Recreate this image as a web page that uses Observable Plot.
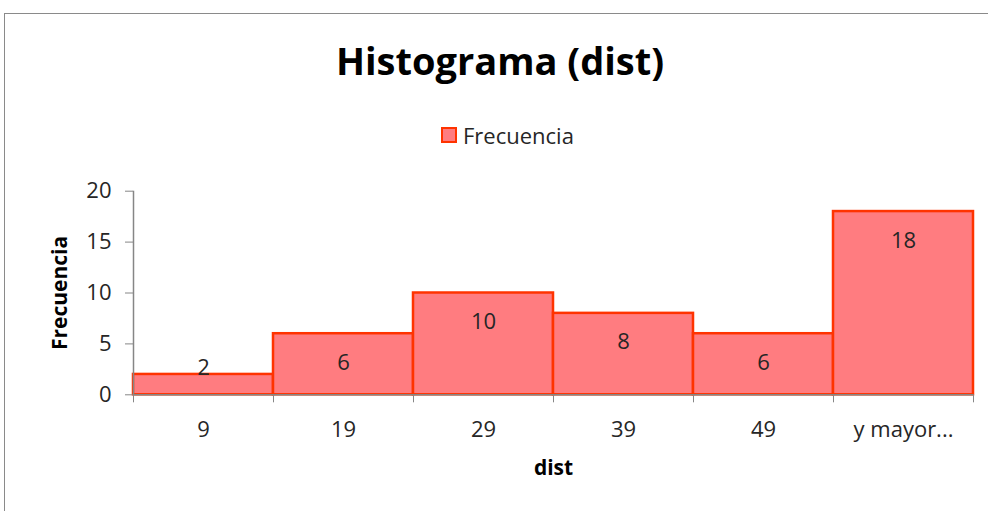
<!DOCTYPE html>
<html>
<head>
<meta charset="utf-8">
<script src="https://cdn.jsdelivr.net/npm/d3@7"></script>
<script src="https://cdn.jsdelivr.net/npm/@observablehq/plot@0.6"></script>
<style>
  body { margin: 0; background: #fff; font-family: "Open Sans", sans-serif; }
  #wrap { position: relative; width: 988px; height: 511px; overflow: hidden; }
  #box { position: absolute; left: 4px; top: 13px; width: 1000px; height: 520px; border-top: 1.5px solid #8a8a8a; border-left: 1.5px solid #8a8a8a; }
  #title { position: absolute; left: 0; width: 1000px; top: 41px; text-align: center; font-weight: bold; font-size: 38px; color: #000; line-height: 1; }
  #legend { position: absolute; left: 441px; top: 124px; font-size: 22px; color: #262626; display: flex; align-items: center; line-height: 1; }
  #legend .sw { width: 12px; height: 12px; background: #ff7c80; border: 2px solid #ff3300; margin-right: 6px; }
  #chart { position: absolute; left: 0; top: 0; }
</style>
</head>
<body>
<div id="wrap">
  <div id="box"></div>
  <div id="chart"></div>
  <div id="title">Histograma (dist)</div>
  <div id="legend"><span class="sw"></span><span>Frecuencia</span></div>
</div>
<script>
const categories = ["9", "19", "29", "39", "49", "y mayor..."];
const frequencies = [2, 6, 10, 8, 6, 18];
const yTicks = [0, 5, 10, 15, 20];

const data = categories.map((c, i) => ({i, category: c, value: frequencies[i]}));
const textColor = "#262626";
const axisColor = "#868686";

const chart = Plot.plot({
  width: 988,
  height: 511,
  marginLeft: 133,
  marginRight: 15,
  marginTop: 190.7,
  marginBottom: 116.7,
  style: {fontFamily: "Open Sans, sans-serif", fontSize: "21px", color: textColor, background: "transparent"},
  x: {type: "linear", domain: [0, categories.length]},
  y: {domain: [0, 20]},
  marks: [
    Plot.rectY(data, {x1: "i", x2: d => d.i + 1, y1: 0, y2: "value", fill: "#ff7c80", stroke: "#ff3300", strokeWidth: 2.5}),
    Plot.ruleY([0], {stroke: axisColor, strokeWidth: 1.5}),
    Plot.ruleX([0], {stroke: axisColor, strokeWidth: 1.5}),
    Plot.axisY({ticks: yTicks, tickSize: 8, tickPadding: 14, stroke: axisColor, fill: textColor, fontSize: 22, label: null}),
    Plot.axisX({ticks: d3.range(categories.length + 1), tickSize: 8, tickFormat: () => "", stroke: axisColor, label: null}),
    Plot.axisX({ticks: categories.map((c, i) => i + 0.5), tickSize: 0, tickPadding: 27, tickFormat: v => categories[Math.floor(v)], fill: textColor, fontSize: 22, label: null}),
    Plot.text(data.filter(d => d.value >= 5), {x: d => d.i + 0.5, y: "value", text: d => String(d.value), dy: 29, fill: textColor, fontSize: 22}),
    Plot.text(data.filter(d => d.value < 5), {x: d => d.i + 0.5, y: "value", text: d => String(d.value), dy: -6, fill: textColor, fontSize: 22}),
    Plot.text(["dist"], {frameAnchor: "bottom", dy: 80, fontWeight: "bold", fontSize: 21, fill: "#000"}),
    Plot.text(["Frecuencia"], {frameAnchor: "left", textAnchor: "middle", dx: -73, rotate: -90, fontWeight: "bold", fontSize: 21, fill: "#000"})
  ]
});
document.getElementById("chart").appendChild(chart);
</script>
</body>
</html>
